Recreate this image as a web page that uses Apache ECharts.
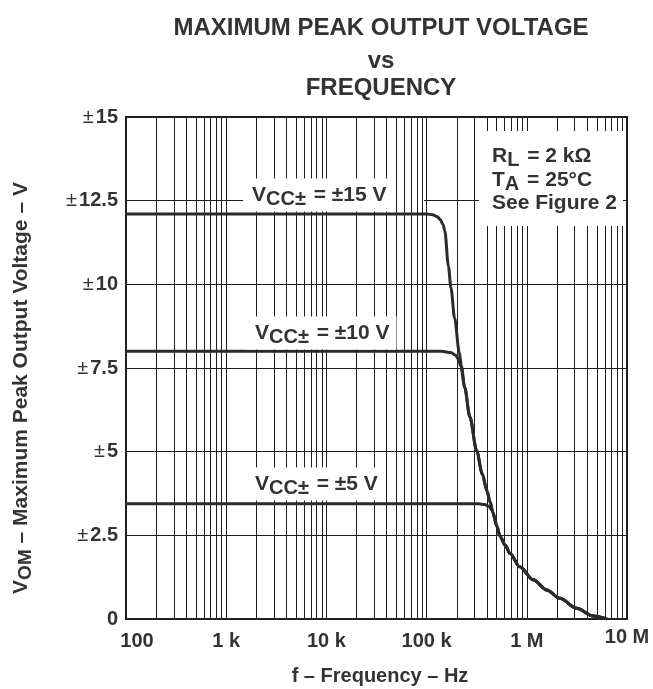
<!DOCTYPE html>
<html><head><meta charset="utf-8">
<script src="https://cdn.jsdelivr.net/npm/echarts@6/dist/echarts.min.js"></script>
<style>html,body{margin:0;padding:0;background:#fff}#c{width:653px;height:689px}</style>
</head><body><div id="c"></div>
<script>
const FONT = '"Liberation Sans", Arial, Helvetica, sans-serif';

// ---- data ----
const xTickLabels = ['100', '1 k', '10 k', '100 k', '1 M', '10 M'];   // 1e2 .. 1e7
const yTickValues = [0, 2.5, 5, 7.5, 10, 12.5, 15];
const yTickLabels = ['0', '±2.5', '±5', '±7.5', '±10', '±12.5', '±15'];
const minorGridFreqs = [200,300,400,500,600,700,800,900,
  2e3,3e3,4e3,5e3,6e3,7e3,8e3,9e3,
  2e4,3e4,4e4,5e4,6e4,7e4,8e4,9e4,
  2e5,3e5,4e5,5e5,6e5,7e5,8e5,9e5,
  2e6,3e6,4e6,5e6,6e6,7e6,8e6,9e6];

// VCC = ±15 V
const freq15 = [100, 1e5, 1.15e5, 1.28e5, 1.38e5, 1.46e5, 1.52e5, 1.65e5, 1.75e5, 1.9e5, 2.12e5, 2.22e5, 2.4e5, 2.7e5, 3.16e5, 3.6e5, 4e5, 4.3e5, 4.6e5, 5e5, 5.4e5, 6.1e5, 6.8e5, 8.5e5, 1.16e6, 1.58e6, 2.14e6, 3.15e6, 4.6e6, 6.3e6];
const vom15  = [12.1, 12.1, 12.08, 12.02, 11.92, 11.78, 11.6, 10.55, 9.9, 9.0, 7.97, 7.57, 6.92, 6.04, 5.03, 4.33, 3.83, 3.5, 3.18, 2.78, 2.48, 2.2, 1.96, 1.56, 1.17, 0.87, 0.62, 0.32, 0.09, 0];
// VCC = ±10 V
const freq10 = [100, 1.4e5, 1.75e5, 1.95e5, 2.08e5, 2.2e5, 2.4e5, 2.7e5, 3.16e5, 3.6e5, 4e5, 4.3e5, 4.6e5, 5e5, 5.4e5, 6.1e5, 6.8e5, 8.5e5, 1.16e6, 1.58e6, 2.14e6, 3.15e6, 4.6e6, 6.3e6];
const vom10  = [8.0, 8.0, 7.96, 7.88, 7.76, 7.55, 6.92, 6.04, 5.03, 4.33, 3.83, 3.5, 3.18, 2.78, 2.48, 2.2, 1.96, 1.56, 1.17, 0.87, 0.62, 0.32, 0.09, 0];
// VCC = ±5 V
const freq5 = [100, 3.3e5, 3.8e5, 4.2e5, 4.5e5, 4.8e5, 5e5, 5.4e5, 6.1e5, 6.8e5, 8.5e5, 1.16e6, 1.58e6, 2.14e6, 3.15e6, 4.6e6, 6.3e6];
const vom5  = [3.44, 3.44, 3.42, 3.36, 3.24, 3.0, 2.8, 2.48, 2.2, 1.96, 1.56, 1.17, 0.87, 0.62, 0.32, 0.09, 0];

const zip = (xs, ys) => xs.map((x, i) => [x, ys[i]]);

const chart = echarts.init(document.getElementById('c'), null, {renderer: 'canvas'});
const TXT = '#333';
const GRID = '#1e1e1e';
const curveStyle = {color: '#2b2b2b', width: 3};
function curve(name, data) {
  return {name, type: 'line', data, showSymbol: false, symbol: 'none', smooth: 0.3, smoothMonotone: 'x',
          lineStyle: curveStyle, itemStyle: {color: '#2b2b2b'}, z: 10, silent: true};
}
function vcc(val) {
  return '{v|V}{s|CC±}{n| = ±' + val + ' V}';
}
const labelRich = {
  v: {font: 'bold 21px ' + FONT, fill: TXT, color: TXT},
  s: {font: 'bold 20px ' + FONT, fill: TXT, color: TXT, padding: [9, 2, 0, 0]},
  n: {font: 'bold 21px ' + FONT, fill: TXT, color: TXT}
};

chart.setOption({
  animation: false,
  backgroundColor: '#fff',
  grid: {left: 126, right: 26, top: 117, bottom: 70, show: true, borderColor: '#222', borderWidth: 2, backgroundColor: 'transparent'},
  xAxis: {
    type: 'log', logBase: 10, min: 100, max: 1e7,
    axisLine: {show: true, lineStyle: {color: '#222', width: 2}},
    axisTick: {show: false},
    splitLine: {show: true, lineStyle: {color: GRID, width: 1}},
    axisLabel: {
      margin: 8, color: TXT, fontFamily: FONT, fontWeight: 'bold', fontSize: 20,
      formatter: function (v) {
        const i = Math.round(Math.log10(v)) - 2;
        const t = xTickLabels[i];
        if (i === 0) return '{first|' + t + '}';
        if (i === xTickLabels.length - 1) return '{last|' + t + '}';
        return '{r|' + t + '}';
      },
      rich: {
        first: {fontFamily: FONT, fontWeight: 'bold', fontSize: 20, color: TXT, padding: [4, 0, 0, 22]},
        r: {fontFamily: FONT, fontWeight: 'bold', fontSize: 20, color: TXT, padding: [4, 0, 0, 0]},
        last: {fontFamily: FONT, fontWeight: 'bold', fontSize: 20, color: TXT, padding: [0, 0, 0, 0]}
      }
    }
  },
  yAxis: {
    type: 'value', min: 0, max: 15, interval: 2.5,
    axisLine: {show: true, lineStyle: {color: '#222', width: 2}},
    axisTick: {show: false},
    splitLine: {show: true, lineStyle: {color: GRID, width: 1}},
    axisLabel: {
      margin: 8, color: TXT,
      formatter: function (v) {
        let i = yTickValues.findIndex(t => Math.abs(t - v) < 1e-6);
        const t = yTickLabels[i];
        if (t.charAt(0) === '±') return '{pm|±}{n|' + t.slice(1) + '}';
        return '{n|' + t + '}';
      },
      rich: {
        pm: {fontFamily: FONT, fontWeight: 'normal', fontSize: 20, color: TXT, padding: [0, 2, 0, 0]},
        n: {fontFamily: FONT, fontWeight: 'bold', fontSize: 20, color: TXT}
      }
    }
  },
  series: [
    {type: 'line', data: [], z: 2, silent: true,
     markLine: {silent: true, symbol: ['none', 'none'], animation: false, label: {show: false},
       lineStyle: {color: GRID, width: 1, type: 'solid'},
       emphasis: {disabled: true},
       data: minorGridFreqs.map(f => ({xAxis: f}))}},
    curve('±15', zip(freq15, vom15)),
    curve('±10', zip(freq10, vom10)),
    curve('±5', zip(freq5, vom5))
  ],
  graphic: [
    {type: 'text', x: 381, y: 28, z: 100, style: {text: 'MAXIMUM PEAK OUTPUT VOLTAGE', font: 'bold 24px ' + FONT, fill: TXT, align: 'center', verticalAlign: 'middle'}},
    {type: 'text', x: 381, y: 61, z: 100, style: {text: 'vs', font: 'bold 24px ' + FONT, fill: TXT, align: 'center', verticalAlign: 'middle'}},
    {type: 'text', x: 381, y: 88, z: 100, style: {text: 'FREQUENCY', font: 'bold 24px ' + FONT, fill: TXT, align: 'center', verticalAlign: 'middle'}},
    {type: 'text', x: 380, y: 676, z: 100, style: {text: 'f – Frequency – Hz', font: 'bold 20px ' + FONT, fill: TXT, align: 'center', verticalAlign: 'middle'}},
    {type: 'text', x: 21, y: 388, rotation: Math.PI / 2, z: 100,
     style: {text: '{v|V}{s|OM}{n| – Maximum Peak Output Voltage – V}', align: 'center', verticalAlign: 'middle',
       rich: {v: {font: 'bold 21px ' + FONT, fill: TXT}, s: {font: 'bold 19px ' + FONT, fill: TXT, padding: [9, 0, 0, 0]}, n: {font: 'bold 21px ' + FONT, fill: TXT}}}},
    // gap in the ±12.5 grid line right of the ±15 label
    {type: 'rect', z: 5, shape: {x: 392, y: 198.5, width: 32, height: 4}, style: {fill: '#fff'}},
    // curve labels (white box breaks grid)
    {type: 'text', x: 243, y: 195, z: 100, style: {text: vcc(15), rich: labelRich, align: 'left', verticalAlign: 'middle', backgroundColor: '#fff', padding: [2, 7, 2, 9]}},
    {type: 'text', x: 246, y: 333, z: 100, style: {text: vcc(10), rich: labelRich, align: 'left', verticalAlign: 'middle', backgroundColor: '#fff', padding: [2, 7, 2, 9]}},
    {type: 'text', x: 246, y: 484, z: 100, style: {text: vcc(5), rich: labelRich, align: 'left', verticalAlign: 'middle', backgroundColor: '#fff', padding: [2, 7, 2, 9]}},
    // conditions box
    {type: 'rect', z: 99, shape: {x: 479, y: 131, width: 144, height: 95}, style: {fill: '#fff'}},
    {type: 'text', x: 492, y: 156, z: 100, style: {text: '{v|R}{s|L}{n| = 2 kΩ}', rich: labelRich, align: 'left', verticalAlign: 'middle'}},
    {type: 'text', x: 492, y: 180, z: 100, style: {text: '{v|T}{s|A}{n| = 25°C}', rich: labelRich, align: 'left', verticalAlign: 'middle'}},
    {type: 'text', x: 492, y: 203, z: 100, style: {text: 'See Figure 2', font: 'bold 21px ' + FONT, fill: TXT, align: 'left', verticalAlign: 'middle'}}
  ]
});
</script>
</body></html>
